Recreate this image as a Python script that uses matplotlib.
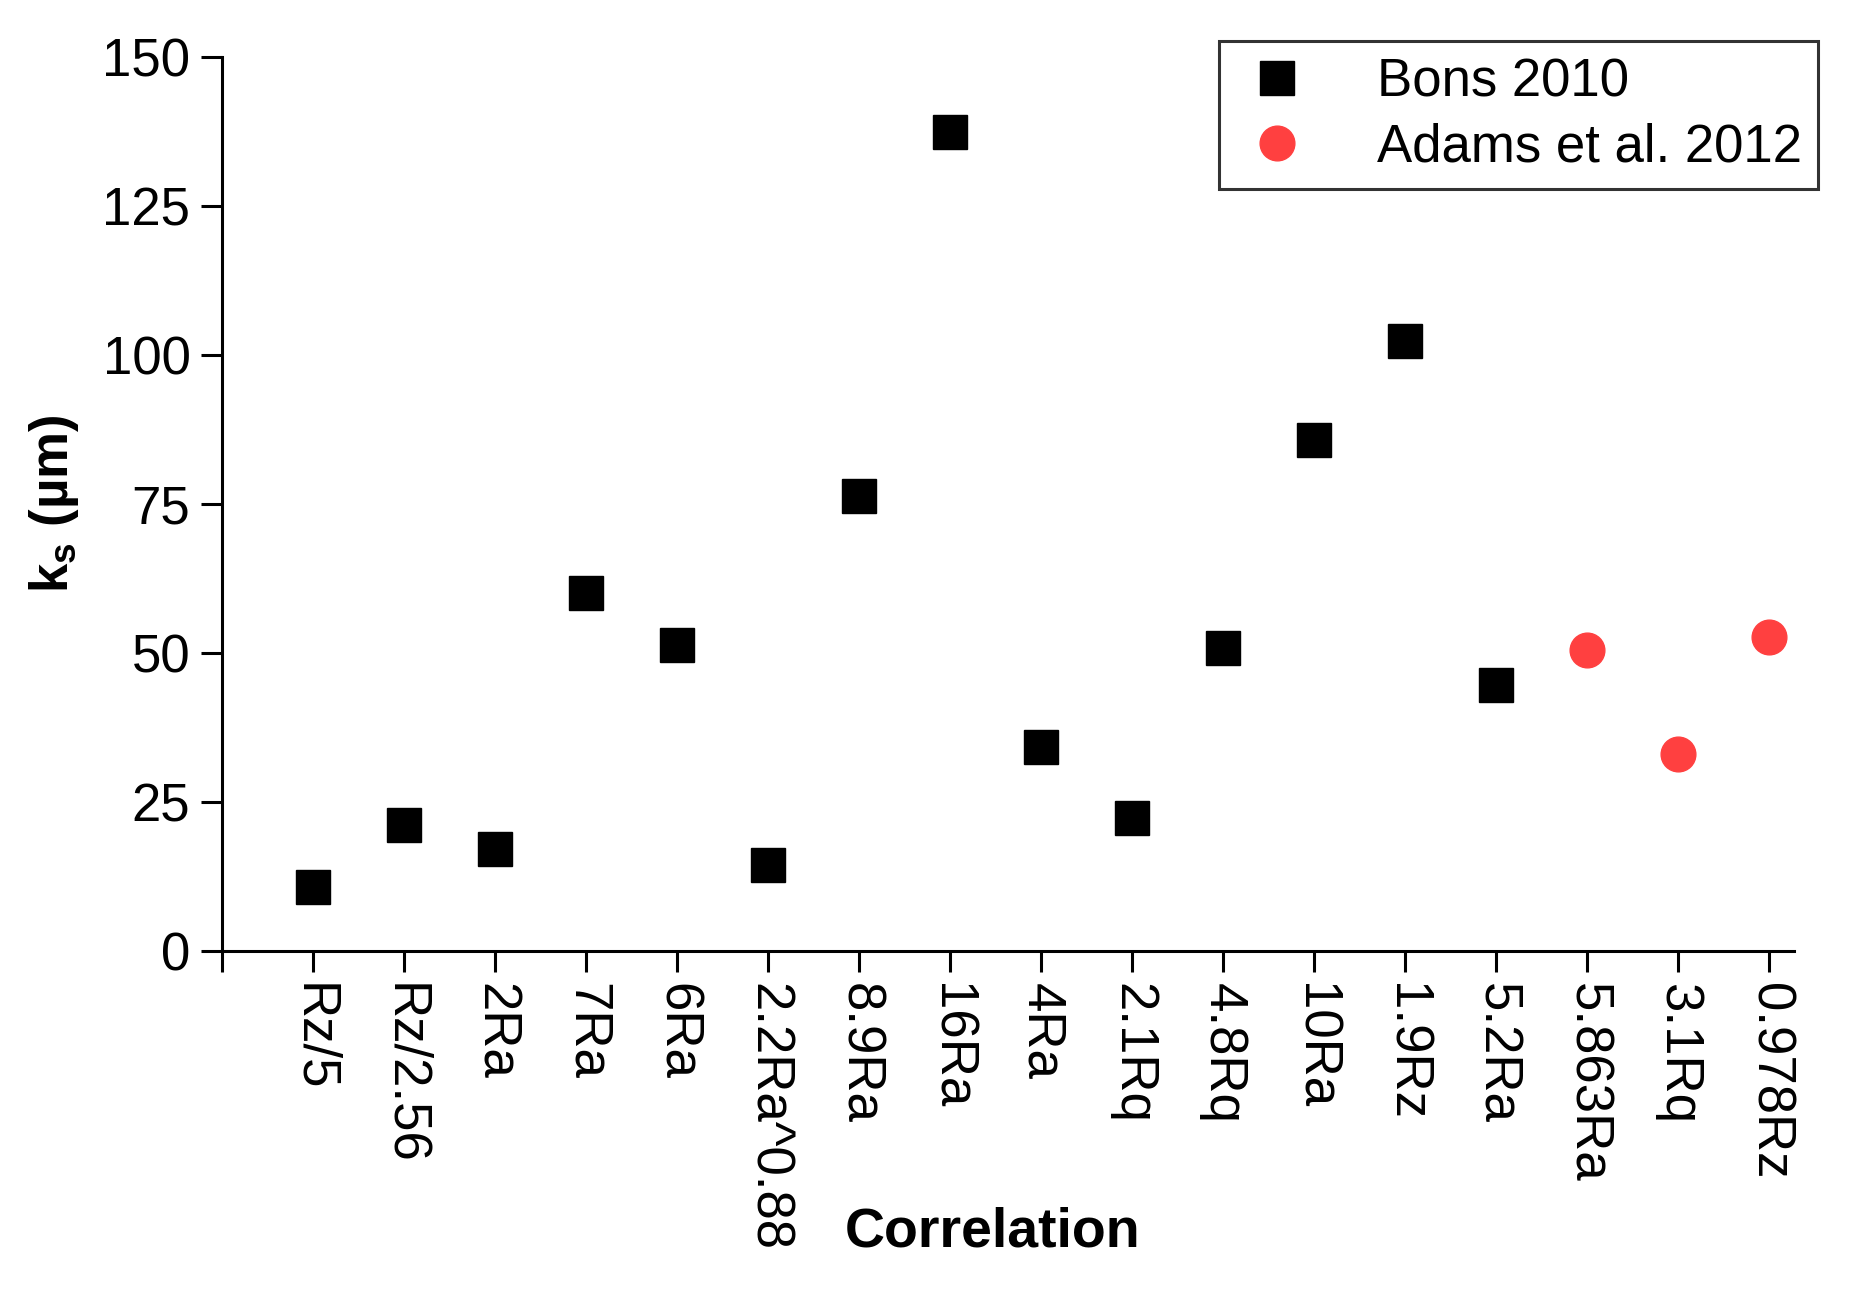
import matplotlib
matplotlib.use("Agg")
import matplotlib.pyplot as plt

plt.rcParams['font.family'] = ['Liberation Sans', 'DejaVu Sans']

# correlations and equivalent sand-grain roughness
bons_labels = ['Rz/5', 'Rz/2.56', '2Ra', '7Ra', '6Ra', '2.2Ra^0.88', '8.9Ra', '16Ra',
               '4Ra', '2.1Rq', '4.8Rq', '10Ra', '1.9Rz', '5.2Ra']
bons_ks = [10.7, 21.2, 17.2, 60.0, 51.3, 14.5, 76.3, 137.3, 34.3, 22.4, 50.9, 85.8, 102.4, 44.6]

adams_labels = ['5.863Ra', '3.1Rq', '0.978Rz']
adams_ks = [50.5, 33.1, 52.7]

labels = bons_labels + adams_labels
bons_x = list(range(1, len(bons_labels) + 1))
adams_x = list(range(len(bons_labels) + 1, len(labels) + 1))

fig = plt.figure(figsize=(18.53, 12.89), dpi=100)
ax = fig.add_axes([0.12, 0.262, 0.848, 0.694])

ax.plot(bons_x, bons_ks, 's', color='black', markersize=25, label='Bons 2010')
ax.plot(adams_x, adams_ks, 'o', color='#ff4040', markersize=25, label='Adams et al. 2012')

ax.set_ylim(0, 150)
ax.set_xlim(0, len(labels) + 0.27)
ax.set_yticks([0, 25, 50, 75, 100, 125, 150])
ax.set_xticks([0] + list(range(1, len(labels) + 1)))
ax.set_xticklabels([''] + labels, rotation=270)

for s in ['top', 'right']:
    ax.spines[s].set_visible(False)
for s in ['left', 'bottom']:
    ax.spines[s].set_linewidth(2.2)
ax.tick_params(axis='both', direction='out', length=15, width=2.2, labelsize=38, pad=8)

ax.set_ylabel('k$_\\mathregular{s}$ (µm)', fontsize=38, fontweight='bold')
ax.yaxis.set_label_coords(-0.09, 0.5)
ax.set_xlabel('Correlation', fontsize=40, fontweight='bold')
ax.xaxis.set_label_coords(0.49, -0.285)

leg = ax.legend(loc='upper right', bbox_to_anchor=(0.981, 0.968), bbox_transform=fig.transFigure,
                fontsize=38, frameon=True, fancybox=False, handletextpad=1.1,
                borderpad=0.3, labelspacing=0.3, handlelength=1.6, borderaxespad=0)
leg.get_frame().set_edgecolor('black')
leg.get_frame().set_linewidth(2.2)

fig.savefig('out.png', dpi=100)
